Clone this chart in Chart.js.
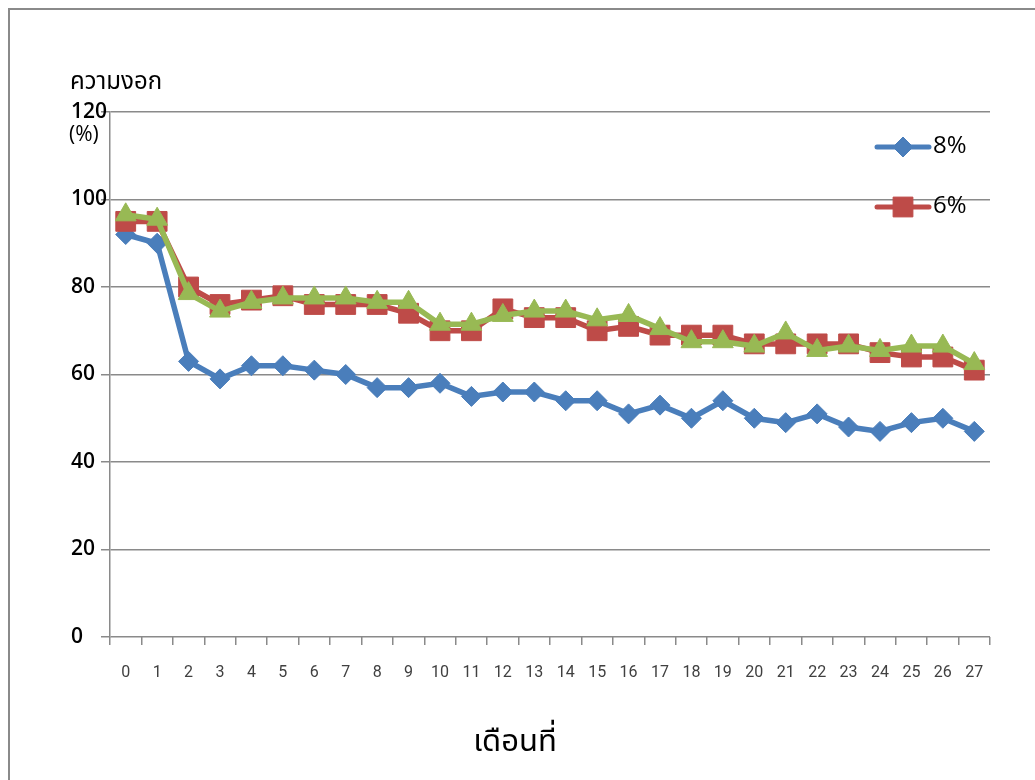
<!DOCTYPE html>
<html>
<head>
<meta charset="utf-8">
<script src="https://cdn.jsdelivr.net/npm/chart.js@4.4.1/dist/chart.umd.min.js"></script>
<style>
  html, body { margin: 0; padding: 0; background: #ffffff; }
  #wrap { width: 1035px; height: 780px; position: relative; }
</style>
</head>
<body>
<div id="wrap"><canvas id="c" width="1035" height="780"></canvas></div>
<script>
// Months since start
const months = ['0','1','2','3','4','5','6','7','8','9','10','11','12','13','14','15','16','17','18','19','20','21','22','23','24','25','26','27'];

// Germination (%) per month
const germ8 = [92, 90, 63, 59, 62, 62, 61, 60, 57, 57, 58, 55, 56, 56, 54, 54, 51, 53, 50, 54, 50, 49, 51, 48, 47, 49, 50, 47];
const germ6 = [95, 95, 80, 76, 77, 78, 76, 76, 76, 74, 70, 70, 75, 73, 73, 70, 71, 69, 69, 69, 67, 67, 67, 67, 65, 64, 64, 61];
const germ4 = [96.5, 95.5, 78.5, 74.5, 76.5, 77.5, 77.5, 77.5, 76.5, 76.5, 71.5, 71.5, 73.5, 74.5, 74.5, 72.5, 73.5, 70.5, 67.5, 67.5, 66.5, 69.5, 65.5, 66.5, 65.5, 66.5, 66.5, 62.5];

const seriesNames = ['8%', '6%', ''];

const yTitle = 'ความงอก';
const yUnit = '(%)';
const xTitle = 'เดือนที่';

const BLUE = '#4A7EBB';
const RED = '#BE4B48';
const GREEN = '#98B954';

const THAI_FONT = '"Noto Sans Thai", "Noto Sans Thai UI", "Noto Sans", sans-serif';

// Frame, axis captions and the in-plot legend
const decorations = {
  id: 'decorations',
  beforeDraw(chart) {
    const ctx = chart.ctx;
    ctx.save();
    ctx.fillStyle = '#ffffff';
    ctx.fillRect(0, 0, chart.width, chart.height);
    ctx.strokeStyle = '#8a8a8a';
    ctx.lineWidth = 2;
    ctx.strokeRect(9, 9, 1200, 1000);
    ctx.restore();
  },
  afterDraw(chart) {
    const ctx = chart.ctx;
    ctx.save();
    ctx.fillStyle = '#000000';
    ctx.textBaseline = 'middle';
    ctx.textAlign = 'left';
    ctx.font = '24px ' + THAI_FONT;
    ctx.fillText(yTitle, 70, 84);
    ctx.font = '21px "Open Sans", sans-serif';
    ctx.fillText(yUnit, 69, 135);
    ctx.textAlign = 'center';
    ctx.font = '31px ' + THAI_FONT;
    ctx.fillText(xTitle, 515, 745);

    // legend entries for the first two series
    const entries = [
      { ds: chart.data.datasets[0], y: 147 },
      { ds: chart.data.datasets[1], y: 207 }
    ];
    entries.forEach(e => {
      ctx.strokeStyle = e.ds.borderColor;
      ctx.lineWidth = 5;
      ctx.lineCap = 'round';
      ctx.beginPath();
      ctx.moveTo(877, e.y);
      ctx.lineTo(929, e.y);
      ctx.stroke();
      ctx.lineCap = 'butt';
      ctx.fillStyle = e.ds.pointBackgroundColor;
      ctx.strokeStyle = e.ds.pointBorderColor;
      ctx.lineWidth = 1;
      Chart.helpers.drawPoint(ctx, {
        pointStyle: e.ds.pointStyle,
        radius: e.ds.pointRadius,
        borderWidth: 1
      }, 903, e.y);
      ctx.fillStyle = '#000000';
      ctx.textAlign = 'left';
      ctx.font = '24px "Open Sans", sans-serif';
      ctx.fillText(e.ds.label, 933, e.y - 1);
    });
    ctx.restore();
  }
};

function lineSet(label, data, color, style, radius, order) {
  return {
    label: label,
    data: data,
    borderColor: color,
    backgroundColor: color,
    pointBackgroundColor: color,
    pointBorderColor: color,
    pointBorderWidth: 1,
    pointStyle: style,
    pointRadius: radius,
    pointHoverRadius: radius,
    borderWidth: 5.5,
    tension: 0,
    order: order
  };
}

new Chart(document.getElementById('c'), {
  type: 'line',
  data: {
    labels: months,
    datasets: [
      lineSet(seriesNames[0], germ8, BLUE, 'rectRot', 10, 2),
      lineSet(seriesNames[1], germ6, RED, 'rect', 14, 1),
      lineSet(seriesNames[2], germ4, GREEN, 'triangle', 12, 0)
    ]
  },
  plugins: [decorations],
  options: {
    responsive: false,
    animation: false,
    events: [],
    layout: { padding: { left: 71, top: 112, right: 45, bottom: 0 } },
    plugins: {
      legend: { display: false },
      tooltip: { enabled: false },
      title: { display: false }
    },
    scales: {
      x: {
        offset: true,
        grid: {
          offset: true,
          drawOnChartArea: false,
          drawTicks: true,
          tickLength: 8,
          color: '#8a8a8a',
          lineWidth: 1.5
        },
        border: { display: false },
        ticks: {
          color: '#404040',
          font: { family: 'Roboto, "Liberation Sans", sans-serif', size: 16 },
          padding: 18,
          maxRotation: 0,
          autoSkip: false
        },
        afterFit(scale) { scale.height = 143; }
      },
      y: {
        min: 0,
        max: 120,
        ticks: {
          stepSize: 20,
          color: '#000000',
          crossAlign: 'far',
          font: { family: '"Open Sans", sans-serif', size: 21, weight: '600' },
          padding: 4
        },
        grid: {
          color: '#8a8a8a',
          lineWidth: 1.5,
          tickLength: 9
        },
        border: { display: true, color: '#8a8a8a', width: 1.5 },
        afterFit(scale) { scale.width = 39; }
      }
    }
  }
});
</script>
</body>
</html>
